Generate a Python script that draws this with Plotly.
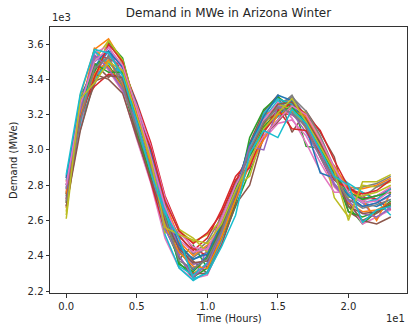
import plotly.graph_objects as go

hours = list(range(24))

# Demand (MWe) at each hour of the day, one value per winter day (30 days shown)
h00 = [2850,2760,2700,2820,2730,2680,2770,2840,2610,2830,2750,2670,2740,2800,2720,2700,2790,2750,2650,2800,2840,2750,2780,2720,2780,2680,2800,2710,2630,2860]
h01 = [3240,3310,3180,3200,3290,3140,3230,3160,3260,3120,3300,3210,3170,3250,3190,3280,3130,3220,3310,3150,3270,3200,3240,3180,3230,3110,3260,3170,3290,3320]
h02 = [3450,3570,3420,3530,3380,3490,3560,3370,3510,3400,3470,3580,3440,3360,3520,3430,3550,3470,3400,3560,3500,3430,3490,3410,3540,3390,3500,3460,3380,3570]
h03 = [3560,3630,3480,3520,3600,3410,3450,3540,3620,3500,3580,3470,3610,3430,3550,3400,3590,3520,3620,3490,3560,3510,3440,3600,3460,3420,3580,3530,3500,3550]
h04 = [3420,3500,3360,3470,3380,3510,3330,3440,3490,3400,3460,3350,3520,3410,3480,3320,3450,3390,3510,3430,3470,3370,3440,3500,3340,3410,3480,3360,3450,3420]
h05 = [3150,3240,3080,3270,3120,3200,3060,3180,3230,3100,3260,3140,3210,3090,3190,3070,3250,3130,3220,3110,3170,3240,3100,3200,3150,3080,3230,3120,3190,3160]
h06 = [2900,2980,2830,3040,2860,2950,2810,2920,3000,2870,2990,2850,2940,2820,2960,2840,3020,2880,2930,2890,2970,2910,2850,3010,2880,2830,2960,2900,2940,2870]
h07 = [2620,2700,2560,2740,2600,2680,2500,2640,2720,2520,2660,2580,2700,2540,2650,2610,2730,2590,2530,2670,2690,2570,2630,2710,2550,2600,2680,2620,2560,2640]
h08 = [2450,2500,2380,2550,2400,2470,2330,2520,2540,2330,2430,2480,2360,2510,2440,2390,2530,2410,2550,2340,2460,2420,2350,2540,2400,2440,2490,2370,2520,2500]
h09 = [2380,2300,2460,2440,2260,2370,2270,2410,2480,2260,2320,2400,2280,2430,2350,2300,2450,2390,2500,2290,2380,2340,2310,2470,2280,2360,2420,2330,2490,2270]
h10 = [2420,2350,2330,2400,2440,2300,2290,2480,2520,2310,2400,2460,2330,2500,2380,2300,2430,2450,2420,2360,2410,2330,2390,2530,2350,2370,2440,2380,2470,2300]
h11 = [2580,2520,2480,2640,2500,2560,2470,2620,2600,2490,2590,2540,2500,2660,2560,2460,2610,2550,2520,2540,2570,2500,2560,2640,2530,2550,2600,2540,2580,2450]
h12 = [2790,2740,2680,2820,2700,2760,2780,2800,2790,2720,2810,2740,2700,2850,2750,2690,2790,2810,2720,2760,2770,2720,2780,2830,2750,2740,2800,2750,2770,2630]
h13 = [2950,3030,2880,2990,2930,3040,2900,2970,2850,3010,2960,2920,3070,2940,2990,2800,3000,2930,2980,2950,3030,2920,2960,2900,3020,2990,2950,3000,2930,2980]
h14 = [3110,3200,3080,3160,3140,3220,3060,3150,3110,3180,3120,3200,3230,3100,3160,3080,3170,3110,3140,3210,3190,3060,3130,3110,3000,3150,3080,3160,3120,3110]
h15 = [3230,3300,3170,3210,3260,3310,3150,3240,3200,3280,3190,3230,3300,3210,3250,3160,3270,3230,3260,3290,3310,3200,3220,3230,3250,3260,3170,3240,3210,3070]
h16 = [3260,3240,3280,3200,3300,3100,3170,3310,3250,3220,3280,3230,3240,3270,3210,3250,3180,3300,3230,3260,3280,3220,3240,3120,3200,3270,3250,3210,3290,3230]
h17 = [3160,3120,3020,3140,3190,3220,3080,3170,3210,3130,3160,3200,3150,3200,3100,3180,3040,3220,3140,3160,3130,3190,3150,3110,3140,3170,3200,3130,3160,3150]
h18 = [3020,3060,3010,2960,3050,3100,2930,3000,3070,3040,2990,2990,3030,3110,2960,3040,2880,3080,3000,3020,2870,3050,3010,2980,2990,3040,3060,2960,3020,3000]
h19 = [2880,2840,2900,2800,2870,2960,2790,2860,2730,2880,2830,2910,2870,2940,2810,2880,2760,2900,2850,2870,2840,2880,2860,2830,2800,2870,2900,2840,2880,2850]
h20 = [2760,2790,2680,2700,2800,2650,2710,2770,2620,2810,2750,2780,2650,2790,2720,2700,2760,2750,2730,2750,2740,2700,2760,2780,2710,2680,2760,2720,2600,2800]
h21 = [2720,2780,2580,2760,2700,2600,2580,2790,2800,2760,2700,2720,2620,2730,2680,2600,2710,2730,2740,2700,2680,2650,2720,2750,2640,2640,2700,2670,2820,2590]
h22 = [2740,2800,2650,2720,2610,2640,2620,2810,2790,2710,2680,2600,2650,2720,2700,2580,2740,2790,2760,2720,2700,2660,2740,2770,2620,2650,2710,2690,2820,2660]
h23 = [2780,2840,2710,2660,2680,2690,2660,2850,2820,2630,2720,2760,2690,2780,2740,2620,2790,2830,2800,2780,2750,2700,2760,2830,2670,2700,2770,2720,2860,2680]

hour_columns = [h00,h01,h02,h03,h04,h05,h06,h07,h08,h09,h10,h11,
                h12,h13,h14,h15,h16,h17,h18,h19,h20,h21,h22,h23]
days = [list(day) for day in zip(*hour_columns)]

colors = ['#1f77b4','#ff7f0e','#2ca02c','#d62728','#9467bd',
          '#8c564b','#e377c2','#7f7f7f','#bcbd22','#17becf']

x_ticks = [0, 5, 10, 15, 20]
x_labels = ['0.0', '0.5', '1.0', '1.5', '2.0']
y_ticks = [2200, 2400, 2600, 2800, 3000, 3200, 3400, 3600]
y_labels = ['2.2', '2.4', '2.6', '2.8', '3.0', '3.2', '3.4', '3.6']

fig = go.Figure()
for i, d in enumerate(days):
    fig.add_trace(go.Scatter(x=hours, y=d, mode='lines',
                             line=dict(color=colors[i % 10], width=1.5),
                             showlegend=False, hoverinfo='skip'))

font = dict(family='DejaVu Sans', size=10, color='#262626')
fig.update_layout(
    width=409, height=326,
    margin=dict(l=50, r=2, t=27, b=33),
    paper_bgcolor='white', plot_bgcolor='white',
    font=font,
    title=dict(text='Demand in MWe in Arizona Winter', x=0.5, xref='paper',
               y=1, yref='container', yanchor='top', pad=dict(t=9),
               font=dict(family='DejaVu Sans', size=12, color='#262626')),
)
fig.update_xaxes(range=[-1.15, 24.15], tickvals=x_ticks, ticktext=x_labels,
                 showgrid=False, zeroline=False, showline=True, mirror=True,
                 linecolor='#333', linewidth=1, ticks='outside', ticklen=3.5,
                 tickwidth=0.8, tickcolor='#333')
fig.update_yaxes(range=[2189, 3697], tickvals=y_ticks, ticktext=y_labels,
                 showgrid=False, zeroline=False, showline=True, mirror=True,
                 linecolor='#333', linewidth=1, ticks='outside', ticklen=3.5,
                 tickwidth=0.8, tickcolor='#333')

fig.add_annotation(text='Time (Hours)', xref='paper', yref='paper', x=0.5, y=0,
                   yshift=-18, yanchor='top', showarrow=False, font=font)
fig.add_annotation(text='Demand (MWe)', xref='paper', yref='paper', x=0, y=0.5,
                   xshift=-37, xanchor='center', textangle=-90, showarrow=False, font=font)
fig.add_annotation(text='1e3', xref='paper', yref='paper', x=0, y=1,
                   yshift=2, xanchor='left', yanchor='bottom', showarrow=False, font=font)
fig.add_annotation(text='1e1', xref='paper', yref='paper', x=1, y=0,
                   yshift=-18, xanchor='right', yanchor='top', showarrow=False, font=font)

fig.write_html('out.html')
